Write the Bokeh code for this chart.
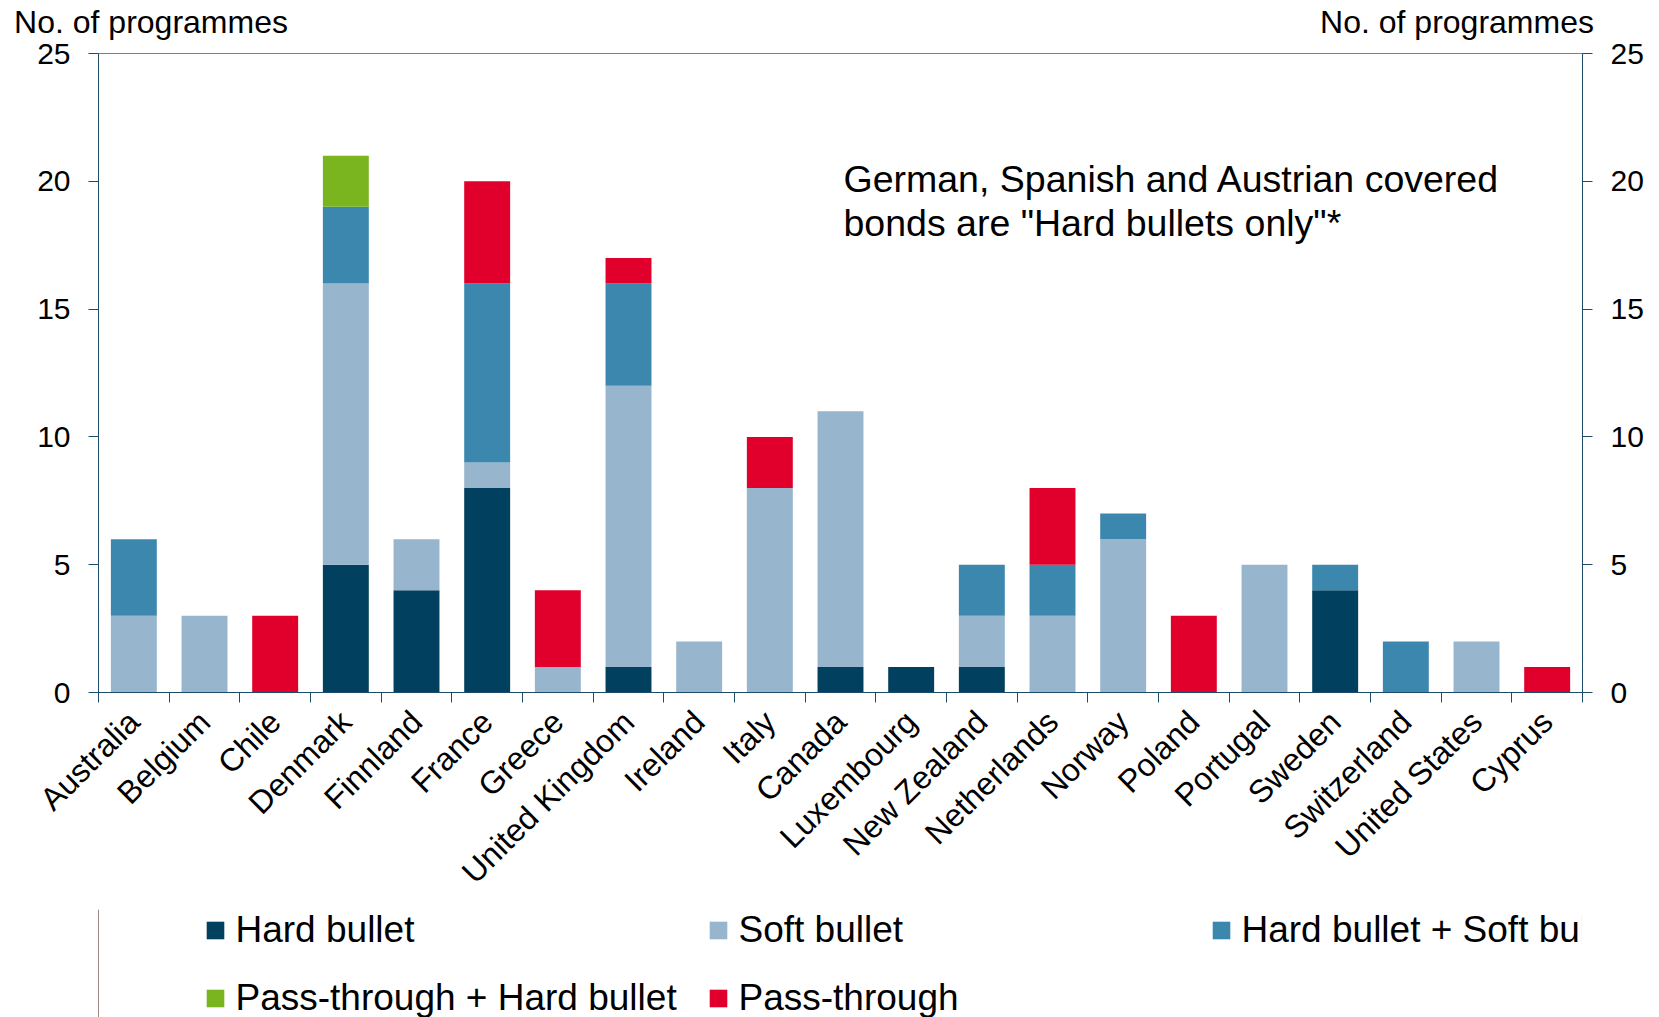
import math
from bokeh.plotting import figure
from bokeh.layouts import column
from bokeh.models import (Range1d, FixedTicker, LinearAxis, Legend, LegendItem,
                          Label, ColumnDataSource)
from bokeh.embed import file_html
from bokeh.resources import INLINE

# ---------------- data ----------------
countries = ["Australia", "Belgium", "Chile", "Denmark", "Finnland", "France", "Greece",
             "United Kingdom", "Ireland", "Italy", "Canada", "Luxembourg", "New Zealand",
             "Netherlands", "Norway", "Poland", "Portugal", "Sweden", "Switzerland",
             "United States", "Cyprus"]
hard_bullet   = [0, 0, 0, 5, 4, 8, 0, 1, 0, 0, 1, 1, 1, 0, 0, 0, 0, 4, 0, 0, 0]
soft_bullet   = [3, 3, 0, 11, 2, 1, 1, 11, 2, 8, 10, 0, 2, 3, 6, 0, 5, 0, 0, 2, 0]
hard_soft     = [3, 0, 0, 3, 0, 7, 0, 4, 0, 0, 0, 0, 2, 2, 1, 0, 0, 1, 2, 0, 0]
pass_hard     = [0, 0, 0, 2, 0, 0, 0, 0, 0, 0, 0, 0, 0, 0, 0, 0, 0, 0, 0, 0, 0]
pass_through  = [0, 0, 3, 0, 0, 4, 3, 1, 0, 2, 0, 0, 0, 3, 0, 3, 0, 0, 0, 0, 1]
series_names = ["Hard bullet", "Soft bullet", "Hard bullet + Soft bullet",
                "Pass-through + Hard bullet", "Pass-through"]
series_colors = ["#02405F", "#97B5CD", "#3C87AE", "#7AB51F", "#E1002B"]
y_ticks = [0, 5, 10, 15, 20, 25]
axis_title = "No. of programmes"
note_lines = ["German, Spanish and Austrian covered", "bonds are \"Hard bullets only\"*"]

# ---------------- main figure ----------------
FONT = "Liberation Sans"
AXIS_COLOR = "#1E4D6B"
n = len(countries)
centers = [i + 0.5 for i in range(n)]
bounds = list(range(n + 1))

keys = ["hb", "sb", "hs", "ph", "pt"]
source = ColumnDataSource(dict(x=centers, hb=hard_bullet, sb=soft_bullet, hs=hard_soft,
                               ph=pass_hard, pt=pass_through))

FRAME_W, FRAME_H = 1484, 639
W = 1655
p = figure(width=W, height=909, output_backend="svg", toolbar_location=None,
           x_range=Range1d(0, n), y_range=Range1d(0, 25),
           min_border_left=98, min_border_right=73, min_border_top=53,
           min_border_bottom=217)
p.title.visible = False
p.xgrid.visible = False
p.ygrid.visible = False
p.outline_line_color = "#808080"
p.background_fill_color = "white"
p.border_fill_color = "white"

renderers = p.vbar_stack(keys, x="x", width=0.65, color=series_colors,
                         line_color=None, source=source)

# x axis: labels at category centres, ticks at boundaries
xa = p.xaxis[0]
xa.ticker = FixedTicker(ticks=centers, minor_ticks=bounds)
xa.major_label_overrides = {c: name for c, name in zip(centers, countries)}
xa.major_label_orientation = math.pi / 4
xa.major_tick_in = 0
xa.major_tick_out = 0
xa.minor_tick_in = 0
xa.minor_tick_out = 10
xa.minor_tick_line_color = AXIS_COLOR
xa.axis_line_color = AXIS_COLOR
xa.major_label_standoff = 14
xa.major_label_text_font = FONT
xa.major_label_text_font_size = "32px"
xa.major_label_text_color = "black"

# y axes
ya = p.yaxis[0]
ya.ticker = FixedTicker(ticks=y_ticks)
ry = LinearAxis(ticker=FixedTicker(ticks=y_ticks))
p.add_layout(ry, "right")
for ax in (ya, ry):
    ax.axis_line_color = AXIS_COLOR
    ax.major_tick_line_color = AXIS_COLOR
    ax.major_tick_in = 0
    ax.major_tick_out = 10
    ax.minor_tick_line_color = None
    ax.major_label_standoff = 18
    ax.major_label_text_font = FONT
    ax.major_label_text_font_size = "30px"
    ax.major_label_text_color = "black"

px_per_x = FRAME_W / n
px_per_y = FRAME_H / 25

# axis titles at top: an unlined axis above the frame carries the two titles
title_w = 273  # approx text width in px
t_left = (14 + title_w / 2 - 98) / px_per_x
t_right = n + (1593 - title_w / 2 - (98 + FRAME_W)) / px_per_x
ta = LinearAxis(ticker=FixedTicker(ticks=[t_left, t_right]))
ta.major_label_overrides = {t_left: axis_title, t_right: axis_title}
ta.axis_line_color = None
ta.major_tick_line_color = None
ta.minor_tick_line_color = None
ta.major_tick_in = 0
ta.major_tick_out = 0
ta.major_label_standoff = 14
ta.major_label_text_font = FONT
ta.major_label_text_font_size = "32px"
ta.major_label_text_color = "black"
p.add_layout(ta, "above")

# note inside the plot
note_x = 745 / px_per_x
for k, line in enumerate(note_lines):
    p.add_layout(Label(x=note_x, y=(514 - 44 * k) / px_per_y, text=line,
                       text_font=FONT, text_font_size="37.5px", text_color="black",
                       text_align="left", text_baseline="alphabetic"))

# ---------------- legend strip below ----------------
leg = figure(width=W, height=108, output_backend="svg", toolbar_location=None,
             x_range=Range1d(0, 1), y_range=Range1d(0, 1),
             x_axis_location=None, y_axis_location=None,
             min_border_left=0, min_border_right=0, min_border_top=0,
             min_border_bottom=0)
leg.grid.visible = False
leg.outline_line_color = None
leg.title.visible = False
leg.background_fill_color = "white"
leg.border_fill_color = "white"

items = []
for name, col in zip(series_names, series_colors):
    # proxy bar kept outside the visible range; it only supplies the legend swatch
    r = leg.vbar(x=[-10], top=[1], width=0.5, fill_color=col, line_color=None)
    items.append(LegendItem(label=name, renderers=[r]))
legend = Legend(items=items, ncols=3, orientation="horizontal", location=(105.5, -2),
                label_text_font=FONT, label_text_font_size="37px", label_text_color="black",
                glyph_width=22, glyph_height=22, label_standoff=10, label_width=445,
                spacing=26, padding=0, margin=0, border_line_color=None,
                background_fill_alpha=0)
leg.add_layout(legend, "center")

open("out.html", "w").write(file_html(column(p, leg, spacing=0), INLINE))
